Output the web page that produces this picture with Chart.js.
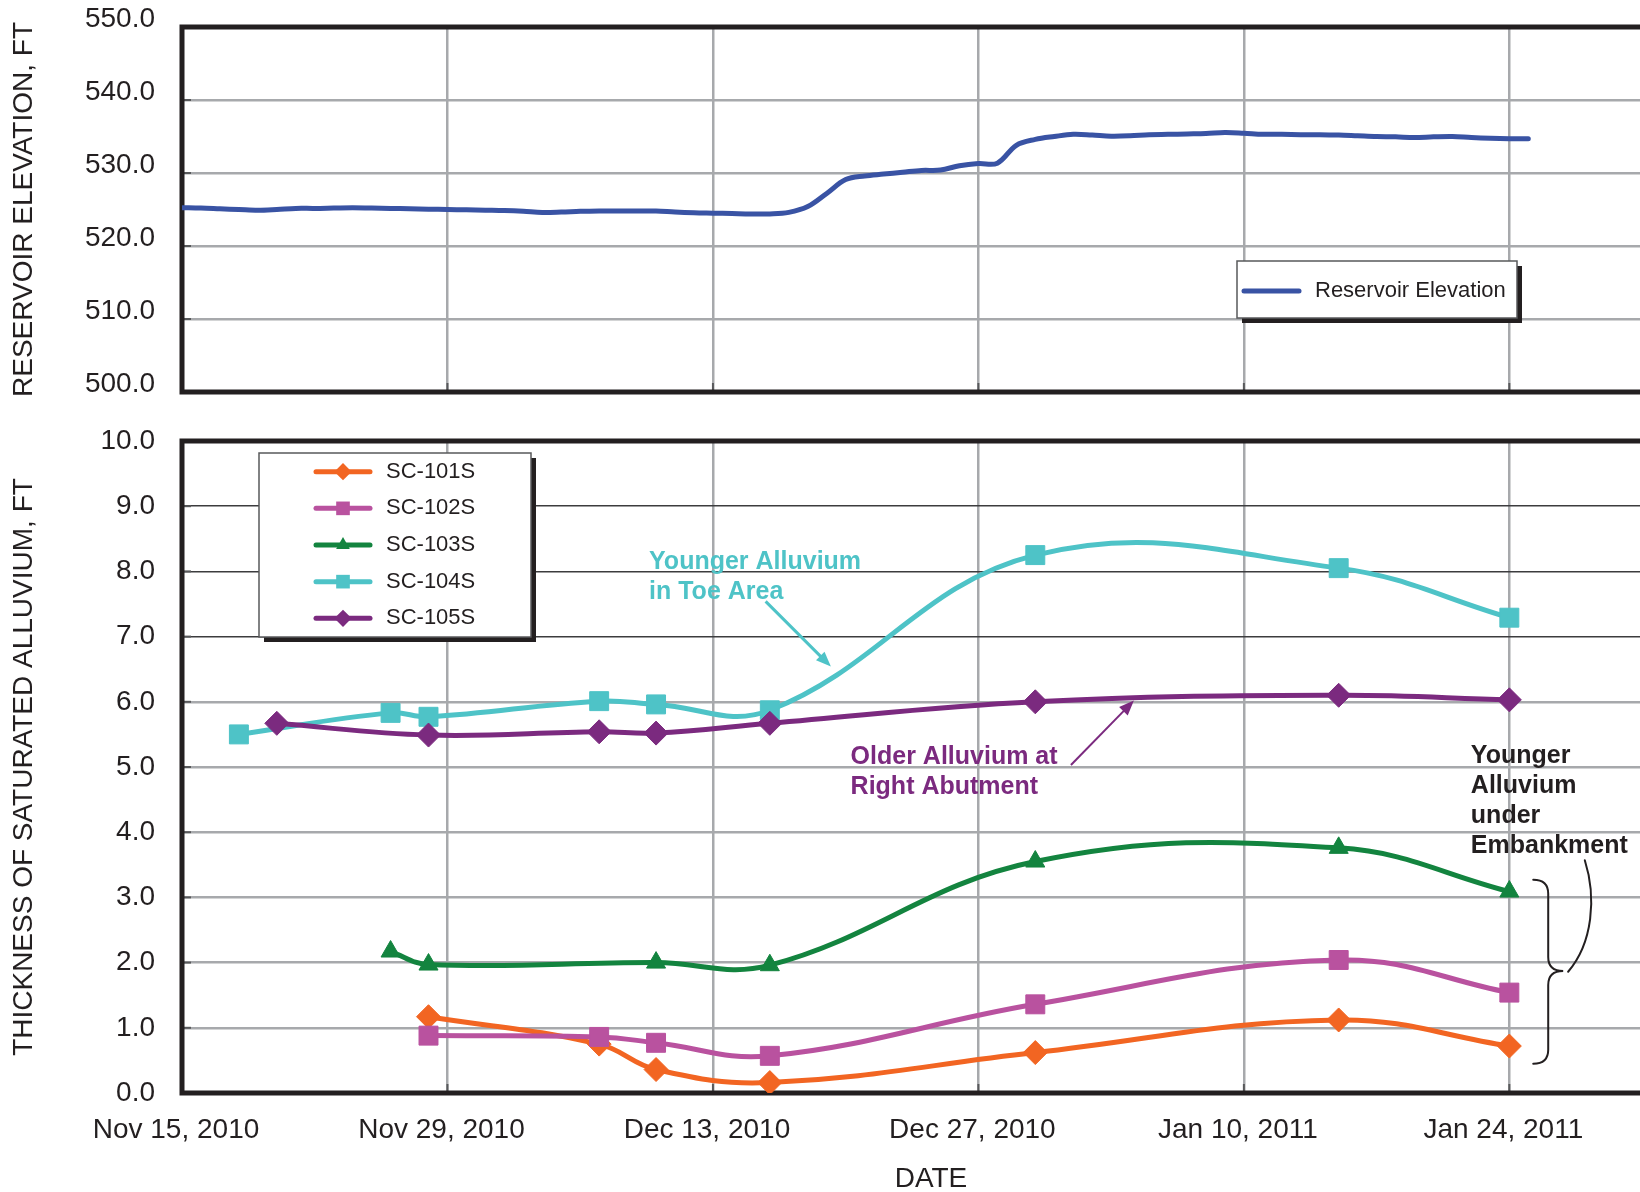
<!DOCTYPE html>
<html>
<head>
<meta charset="utf-8">
<title>Reservoir elevation and saturated alluvium thickness</title>
<script src="https://cdn.jsdelivr.net/npm/chart.js@4.4.1/dist/chart.umd.min.js"></script>
<style>
  html, body { margin: 0; padding: 0; background: #fff; overflow: hidden; }
  #wrap { position: relative; width: 1640px; height: 1192px; overflow: hidden; }
  canvas { position: absolute; left: 0; }
  #elevChart { top: 0; }
  #alluviumChart { top: 400px; }
</style>
</head>
<body>
<div id="wrap">
  <canvas id="elevChart" width="1700" height="410"></canvas>
  <canvas id="alluviumChart" width="1700" height="800"></canvas>
</div>
<script>
// ---- data ----
const axisStart = '2010-11-15';
const axisEnd = '2011-02-02';
const tickDates = ['2010-11-15', '2010-11-29', '2010-12-13', '2010-12-27', '2011-01-10', '2011-01-24'];
const tickLabels = ['Nov 15, 2010', 'Nov 29, 2010', 'Dec 13, 2010', 'Dec 27, 2010', 'Jan 10, 2011', 'Jan 24, 2011'];

// daily pool readings, first one on Nov 15, 2010
const elevFirstDate = '2010-11-15';
const elevReadings = [
  525.25, 525.2, 525.1, 525.0, 524.9, 525.0, 525.15, 525.15, 525.2, 525.25,
  525.2, 525.15, 525.1, 525.05, 525.0, 524.95, 524.9, 524.85, 524.75, 524.6,
  524.65, 524.75, 524.8, 524.8, 524.8, 524.8, 524.65, 524.55, 524.5, 524.45,
  524.4, 524.4, 524.6, 525.4, 527.2, 529.1, 529.6, 529.85, 530.1, 530.35,
  530.4, 531.0, 531.3, 531.35, 533.8, 534.6, 535.0, 535.3, 535.2, 535.05,
  535.1, 535.25, 535.3, 535.35, 535.4, 535.55, 535.45, 535.3, 535.3, 535.25,
  535.25, 535.2, 535.1, 535.0, 534.95, 534.85, 534.95, 535.0, 534.85, 534.75,
  534.7, 534.7
];

const sc101Dates = ['2010-11-28', '2010-12-07', '2010-12-10', '2010-12-16', '2010-12-30', '2011-01-15', '2011-01-24'];
const sc101 = [1.17, 0.75, 0.36, 0.16, 0.62, 1.12, 0.72];
const sc102Dates = ['2010-11-28', '2010-12-07', '2010-12-10', '2010-12-16', '2010-12-30', '2011-01-15', '2011-01-24'];
const sc102 = [0.88, 0.86, 0.77, 0.57, 1.36, 2.04, 1.54];
const sc103Dates = ['2010-11-26', '2010-11-28', '2010-12-10', '2010-12-16', '2010-12-30', '2011-01-15', '2011-01-24'];
const sc103 = [2.17, 1.97, 2.00, 1.96, 3.55, 3.76, 3.09];
const sc104Dates = ['2010-11-18', '2010-11-26', '2010-11-28', '2010-12-07', '2010-12-10', '2010-12-16', '2010-12-30', '2011-01-15', '2011-01-24'];
const sc104 = [5.50, 5.83, 5.77, 6.01, 5.96, 5.87, 8.25, 8.05, 7.29];
const sc105Dates = ['2010-11-20', '2010-11-28', '2010-12-07', '2010-12-10', '2010-12-16', '2010-12-30', '2011-01-15', '2011-01-24'];
const sc105 = [5.67, 5.49, 5.54, 5.52, 5.67, 6.00, 6.10, 6.03];

// ---- look ----
const ink = '#231f20';
const gridGray = '#a7a9ac';
const fontFamily = '"Liberation Sans", Arial, Helvetica, sans-serif';
const blue = '#3953a4';
const orange = '#f26522';
const magenta = '#b9529f';
const green = '#13843f';
const teal = '#4ec3c7';
const purple = '#7b2a7f';

const DAY = 86400000;
const dayOf = s => (Date.parse(s) - Date.parse(axisStart)) / DAY;
const toPoints = (dates, vals) => dates.map((d, i) => ({ x: dayOf(d), y: vals[i] }));
const tickDays = tickDates.map(dayOf);

function line(ctx, x1, y1, x2, y2) {
  ctx.beginPath();
  ctx.moveTo(x1, y1);
  ctx.lineTo(x2, y2);
  ctx.stroke();
}

function drawMarker(ctx, style, x, y, r) {
  ctx.beginPath();
  if (style === 'rect') {
    const s = r * Math.SQRT1_2;
    ctx.rect(x - s, y - s, 2 * s, 2 * s);
  } else if (style === 'rectRot') {
    ctx.moveTo(x, y - r); ctx.lineTo(x + r, y); ctx.lineTo(x, y + r); ctx.lineTo(x - r, y);
    ctx.closePath();
  } else if (style === 'triangle') {
    ctx.moveTo(x, y - r);
    ctx.lineTo(x + r * Math.sin(2 * Math.PI / 3), y + r / 2);
    ctx.lineTo(x - r * Math.sin(2 * Math.PI / 3), y + r / 2);
    ctx.closePath();
  }
  ctx.fill();
}

// thick frame on left/top/bottom, small inward ticks
const framePlugin = {
  id: 'frame',
  beforeDatasetsDraw(chart) {
    const { ctx, chartArea: a, scales } = chart;
    ctx.save();
    ctx.strokeStyle = '#58595b';
    ctx.lineWidth = 2;
    scales.y.ticks.forEach(t => {
      const py = scales.y.getPixelForValue(t.value);
      line(ctx, a.left, py, a.left + 9, py);
    });
    scales.x.ticks.forEach(t => {
      const px = scales.x.getPixelForValue(t.value);
      line(ctx, px, a.bottom, px, a.bottom - 9);
    });
    ctx.strokeStyle = ink;
    ctx.lineWidth = 5;
    ctx.lineJoin = 'miter';
    ctx.beginPath();
    ctx.moveTo(a.right + 30, a.top);
    ctx.lineTo(a.left, a.top);
    ctx.lineTo(a.left, a.bottom);
    ctx.lineTo(a.right + 30, a.bottom);
    ctx.stroke();
    ctx.restore();
  }
};

// boxed legend with a drop shadow
function boxLegend(box) {
  return {
    id: 'boxLegend',
    afterDraw(chart) {
      const { ctx, chartArea: a } = chart;
      const x = a.left + box.dx, y = a.top + box.dy;
      ctx.save();
      ctx.fillStyle = ink;
      ctx.fillRect(x + 5, y + 5, box.w, box.h);
      ctx.fillStyle = '#fff';
      ctx.fillRect(x, y, box.w, box.h);
      ctx.strokeStyle = '#58595b';
      ctx.lineWidth = 1.5;
      ctx.strokeRect(x, y, box.w, box.h);
      chart.data.datasets.forEach((ds, i) => {
        const cy = y + box.firstRow + i * box.rowStep;
        ctx.strokeStyle = ds.borderColor;
        ctx.lineWidth = 5;
        ctx.lineCap = 'round';
        line(ctx, x + box.lineFrom, cy, x + box.lineTo, cy);
        if (ds.pointRadius) {
          ctx.fillStyle = ds.borderColor;
          drawMarker(ctx, ds.pointStyle, x + (box.lineFrom + box.lineTo) / 2, cy, ds.pointRadius * 0.72);
        }
        ctx.fillStyle = ink;
        ctx.font = `22px ${fontFamily}`;
        ctx.textAlign = 'left';
        ctx.textBaseline = 'middle';
        ctx.fillText(ds.label, x + box.textX, cy);
      });
      ctx.restore();
    }
  };
}

// callouts on the thickness chart, placed in day / feet units
const noteLabels = [
  { lines: ['Younger Alluvium', 'in Toe Area'], color: teal, day: 24.63, value: 8.04 },
  { lines: ['Older Alluvium at', 'Right Abutment'], color: purple, day: 35.26, value: 5.05 },
  { lines: ['Younger', 'Alluvium', 'under', 'Embankment'], color: ink, day: 67.97, value: 5.06 }
];
const noteArrows = [
  { color: teal, width: 3, from: [30.78, 7.54], to: [34.22, 6.54] },
  { color: purple, width: 2, from: [46.88, 5.03], to: [50.2, 6.02] }
];
const brace = { left: 71.26, tip: 72.84, top: 3.27, mid: 1.87, bottom: 0.45 };
const braceLead = [[73.1, 1.86], [74.4, 2.3], [74.6, 3.0], [73.98, 3.57]];

const notesPlugin = {
  id: 'notes',
  afterDatasetsDraw(chart) {
    const { ctx, scales: { x, y } } = chart;
    const px = d => x.getPixelForValue(d);
    const py = v => y.getPixelForValue(v);
    ctx.save();
    ctx.font = `bold 25px ${fontFamily}`;
    ctx.textAlign = 'left';
    ctx.textBaseline = 'alphabetic';
    noteLabels.forEach(n => {
      ctx.fillStyle = n.color;
      n.lines.forEach((t, i) => ctx.fillText(t, px(n.day), py(n.value) + i * 30));
    });

    noteArrows.forEach(a => {
      const x1 = px(a.from[0]), y1 = py(a.from[1]);
      const x2 = px(a.to[0]), y2 = py(a.to[1]);
      const ang = Math.atan2(y2 - y1, x2 - x1);
      const head = 15, half = 6;
      ctx.strokeStyle = a.color;
      ctx.fillStyle = a.color;
      ctx.lineWidth = a.width;
      line(ctx, x1, y1, x2 - Math.cos(ang) * head * 0.8, y2 - Math.sin(ang) * head * 0.8);
      ctx.beginPath();
      ctx.moveTo(x2, y2);
      ctx.lineTo(x2 - Math.cos(ang) * head - Math.sin(ang) * half, y2 - Math.sin(ang) * head + Math.cos(ang) * half);
      ctx.lineTo(x2 - Math.cos(ang) * head + Math.sin(ang) * half, y2 - Math.sin(ang) * head - Math.cos(ang) * half);
      ctx.closePath();
      ctx.fill();
    });

    // curly brace grouping the embankment wells
    const xl = px(brace.left), xt = px(brace.tip), xm = (xl + xt) / 2;
    const yt = py(brace.top), ym = py(brace.mid), yb = py(brace.bottom);
    const r = 14;
    ctx.strokeStyle = ink;
    ctx.lineWidth = 2;
    ctx.lineCap = 'round';
    ctx.beginPath();
    ctx.moveTo(xl, yt);
    ctx.quadraticCurveTo(xm, yt, xm, yt + r);
    ctx.lineTo(xm, ym - r);
    ctx.quadraticCurveTo(xm, ym, xt, ym);
    ctx.quadraticCurveTo(xm, ym, xm, ym + r);
    ctx.lineTo(xm, yb - r);
    ctx.quadraticCurveTo(xm, yb, xl, yb);
    ctx.stroke();
    ctx.beginPath();
    ctx.moveTo(px(braceLead[0][0]), py(braceLead[0][1]));
    ctx.bezierCurveTo(px(braceLead[1][0]), py(braceLead[1][1]),
                      px(braceLead[2][0]), py(braceLead[2][1]),
                      px(braceLead[3][0]), py(braceLead[3][1]));
    ctx.stroke();
    ctx.restore();
  }
};

const xScale = (showLabels) => ({
  type: 'linear',
  min: dayOf(axisStart),
  max: dayOf(axisEnd),
  afterBuildTicks: scale => { scale.ticks = tickDays.map(v => ({ value: v })); },
  grid: { color: gridGray, lineWidth: 2.5, drawTicks: false },
  border: { display: false },
  ticks: {
    display: showLabels,
    autoSkip: false,
    maxRotation: 0,
    padding: 20,
    labelOffset: -6,
    color: ink,
    font: { family: fontFamily, size: 28 },
    callback: (v, i) => tickLabels[i]
  }
});

// y labels sit 27px left of the frame; an invisible tick keeps the gap
const yGrid = extra => Object.assign({
  color: gridGray, lineWidth: 2.5,
  drawTicks: true, tickLength: 27, tickColor: 'rgba(0,0,0,0)'
}, extra);

const yTitle = text => ({
  display: true,
  text,
  color: ink,
  font: { family: fontFamily, size: 28 },
  padding: { top: 7, bottom: 0 }
});

// reservoir elevation (upper panel)
new Chart(document.getElementById('elevChart'), {
  type: 'line',
  data: {
    datasets: [{
      label: 'Reservoir Elevation',
      data: elevReadings.map((v, i) => ({ x: dayOf(elevFirstDate) + i, y: v })),
      borderColor: blue,
      backgroundColor: blue,
      borderWidth: 5,
      borderCapStyle: 'round',
      borderJoinStyle: 'round',
      pointRadius: 0,
      tension: 0.35,
      fill: false
    }]
  },
  options: {
    responsive: false,
    animation: false,
    events: [],
    layout: { padding: { top: 27, left: 0, right: 20, bottom: 0 } },
    plugins: { legend: { display: false }, tooltip: { enabled: false } },
    scales: {
      x: Object.assign(xScale(false), { afterFit: s => { s.height = 18; } }),
      y: {
        min: 500, max: 550,
        afterFit: s => { s.width = 182; },
        grid: yGrid({}),
        border: { display: false },
        ticks: {
          stepSize: 10, padding: 0, labelOffset: -8, color: ink,
          font: { family: fontFamily, size: 28 },
          callback: v => v.toFixed(1)
        },
        title: yTitle('RESERVOIR ELEVATION, FT')
      }
    }
  },
  plugins: [framePlugin, boxLegend({ dx: 1055, dy: 234, w: 280, h: 57, firstRow: 30, rowStep: 0, lineFrom: 7, lineTo: 62, textX: 78 })]
});

// thickness of saturated alluvium (lower panel)
const darkRows = [7, 8, 9];
const wellSet = (label, dates, vals, color, style, radius, order) => ({
  label,
  data: toPoints(dates, vals),
  borderColor: color,
  backgroundColor: color,
  borderWidth: 5,
  borderCapStyle: 'round',
  borderJoinStyle: 'round',
  pointStyle: style,
  pointRadius: radius,
  pointBorderWidth: 1,
  pointBackgroundColor: color,
  pointBorderColor: color,
  tension: 0.4,
  fill: false,
  order
});

new Chart(document.getElementById('alluviumChart'), {
  type: 'line',
  data: {
    datasets: [
      wellSet('SC-101S', sc101Dates, sc101, orange, 'rectRot', 12, 5),
      wellSet('SC-102S', sc102Dates, sc102, magenta, 'rect', 13.4, 4),
      wellSet('SC-103S', sc103Dates, sc103, green, 'triangle', 11, 3),
      wellSet('SC-104S', sc104Dates, sc104, teal, 'rect', 13.4, 2),
      wellSet('SC-105S', sc105Dates, sc105, purple, 'rectRot', 12, 1)
    ]
  },
  options: {
    responsive: false,
    animation: false,
    events: [],
    layout: { padding: { top: 41, left: 0, right: 20, bottom: 0 } },
    plugins: { legend: { display: false }, tooltip: { enabled: false } },
    scales: {
      x: Object.assign(xScale(true), {
        afterFit: s => { s.height = 107; },
        title: {
          display: true, text: 'DATE', color: ink,
          font: { family: fontFamily, size: 28 },
          padding: { top: 0, bottom: 4 }
        }
      }),
      y: {
        min: 0, max: 10,
        afterFit: s => { s.width = 182; },
        grid: yGrid({
          color: c => (c.tick && darkRows.includes(c.tick.value)) ? '#3c3c3e' : gridGray,
          lineWidth: c => (c.tick && darkRows.includes(c.tick.value)) ? 1.5 : 2.5
        }),
        border: { display: false },
        ticks: {
          stepSize: 1, padding: 0, color: ink,
          font: { family: fontFamily, size: 28 },
          callback: v => v.toFixed(1)
        },
        title: yTitle('THICKNESS OF SATURATED ALLUVIUM, FT')
      }
    }
  },
  plugins: [framePlugin, notesPlugin, boxLegend({ dx: 77, dy: 12, w: 272, h: 184, firstRow: 18.7, rowStep: 36.65, lineFrom: 57, lineTo: 111, textX: 127 })]
});
</script>
</body>
</html>
